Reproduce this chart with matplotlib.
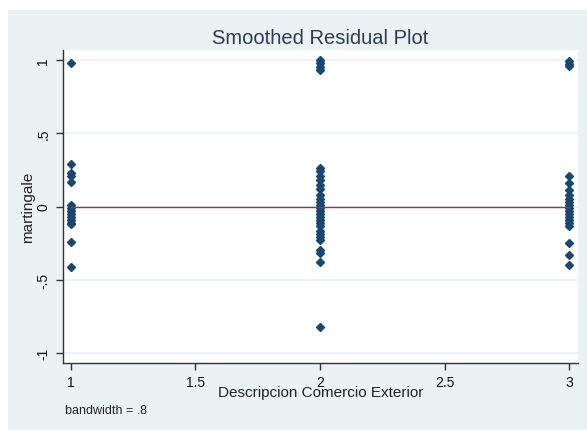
# gráfico de resíduos suavizados (martingale) por categoria
import matplotlib.pyplot as plt
from matplotlib.patches import Rectangle

plt.rcParams["font.family"] = ["Liberation Sans", "DejaVu Sans"]

# valores
x1 = [0.98, 0.29, 0.23, 0.21, 0.17, 0.01, -0.01, -0.03, -0.05, -0.07,
      -0.09, -0.11, -0.12, -0.24, -0.41]
x2 = [1.0, 0.98, 0.95, 0.93, 0.26, 0.24, 0.21, 0.18, 0.15, 0.12, 0.08,
      0.05, 0.03, 0.01, -0.01, -0.03, -0.05, -0.07, -0.09, -0.11, -0.13,
      -0.17, -0.19, -0.21, -0.23, -0.30, -0.32, -0.38, -0.82]
x3 = [0.99, 0.97, 0.96, 0.21, 0.16, 0.11, 0.08, 0.05, 0.03, 0.01, -0.01,
      -0.03, -0.05, -0.07, -0.09, -0.11, -0.13, -0.25, -0.33, -0.40]
groups = [1, 2, 3]
smooth_x = [1, 3]
smooth_y = [0.0, 0.0]

xticks = [1, 1.5, 2, 2.5, 3]
xticklabels = ["1", "1.5", "2", "2.5", "3"]
yticks = [-1, -0.5, 0, 0.5, 1]
yticklabels = ["-1", "-.5", "0", ".5", "1"]

W, H = 587, 431
fig = plt.figure(figsize=(W / 100, H / 100), dpi=100)
fig.patches.append(Rectangle((8 / W, 0), 1, 1 - 11 / H, transform=fig.transFigure,
                             facecolor="#EAF2F3", edgecolor="none", zorder=-5))

axe = fig.add_axes([63 / W, (H - 364) / H, (578 - 63) / W, (364 - 51) / H])
axe.set_facecolor("white")

for g, vals in zip(groups, [x1, x2, x3]):
    axe.plot([g] * len(vals), vals, ls="none", marker="D", markersize=4.0,
             color="#1A476F", zorder=3)
axe.plot(smooth_x, smooth_y, color="#A0323A", lw=1.0, zorder=4)

axe.set_xlim(0.968, 3.036)
axe.set_ylim(-1.068, 1.068)
axe.set_xticks(xticks, xticklabels, fontsize=10)
axe.set_yticks(yticks, yticklabels, fontsize=10, rotation=90, va="center")
axe.tick_params(direction="out", length=5, width=1, color="#333333",
                labelcolor="#111111", pad=4)
axe.grid(axis="y", color="#EAF2F3", lw=1.2)
axe.set_axisbelow(True)
for s in ["top", "right"]:
    axe.spines[s].set_visible(False)
for s in ["left", "bottom"]:
    axe.spines[s].set_color("#333333")
    axe.spines[s].set_linewidth(1.0)

axe.set_title("Smoothed Residual Plot", fontsize=14.5, color="#2E3B55", pad=5)
axe.set_xlabel("Descripcion Comercio Exterior", fontsize=11, color="#222222",
               labelpad=-3)
axe.set_ylabel("martingale", fontsize=11, color="#222222", labelpad=1)
fig.text(65 / W, 1 - 411 / H, "bandwidth = .8", fontsize=9, color="#222222",
         va="center")

plt.savefig("out.png", dpi=100)
